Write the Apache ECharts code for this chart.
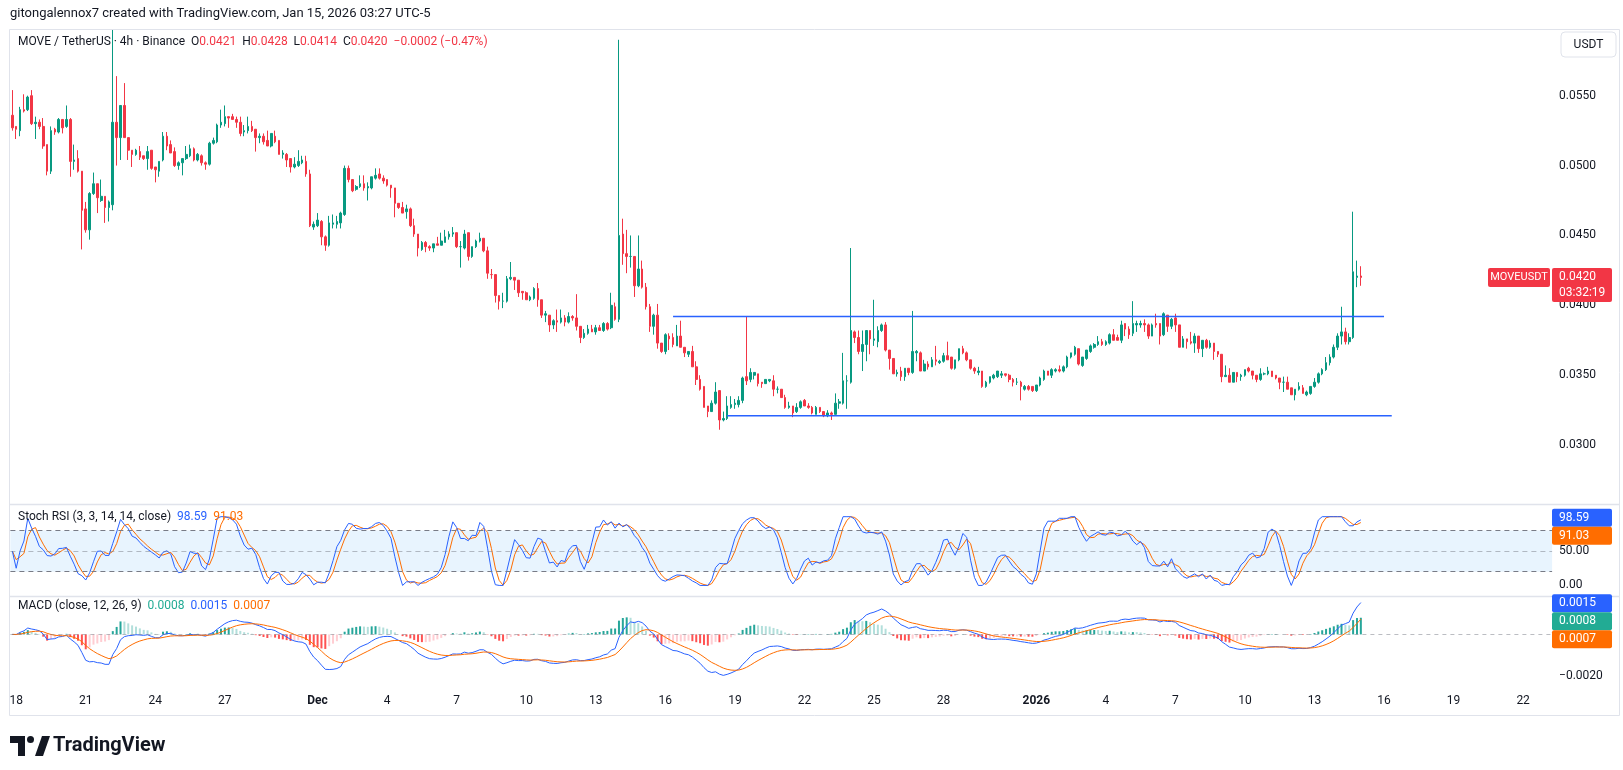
<!DOCTYPE html>
<html><head><meta charset="utf-8">
<script src="https://cdn.jsdelivr.net/npm/echarts/dist/echarts.min.js"></script>
<style>html,body{margin:0;padding:0;background:#fff}#c{width:1623px;height:770px}</style>
</head><body><div id="c"></div>
<script>
// ---- price data: 4h candles [open, high, low, close], first bar 2025-11-17 23:00 (UTC-5)
const ohlc = [
[0.0536,0.0554,0.0525,0.0527],[0.0528,0.0528,0.0519,0.0526],[0.0525,0.0542,0.0521,0.0540],[0.0540,0.0551,0.0538,0.0539],[0.0540,0.0550,0.0539,0.0549],
[0.0550,0.0554,0.0529,0.0530],[0.0530,0.0535,0.0519,0.0531],[0.0531,0.0533,0.0526,0.0528],[0.0528,0.0534,0.0512,0.0514],[0.0515,0.0515,0.0493,0.0496],
[0.0496,0.0528,0.0494,0.0525],[0.0526,0.0527,0.0522,0.0524],[0.0524,0.0534,0.0523,0.0533],[0.0533,0.0533,0.0523,0.0527],[0.0528,0.0543,0.0527,0.0533],
[0.0533,0.0534,0.0492,0.0503],[0.0503,0.0515,0.0497,0.0504],[0.0505,0.0511,0.0495,0.0496],[0.0496,0.0496,0.0440,0.0468],[0.0469,0.0474,0.0452,0.0454],
[0.0454,0.0481,0.0447,0.0480],[0.0480,0.0495,0.0479,0.0487],[0.0487,0.0487,0.0466,0.0477],[0.0475,0.0490,0.0474,0.0478],[0.0478,0.0478,0.0459,0.0470],
[0.0470,0.0475,0.0460,0.0474],[0.0472,0.0597,0.0468,0.0531],[0.0531,0.0564,0.0500,0.0520],[0.0520,0.0543,0.0504,0.0543],[0.0543,0.0559,0.0520,0.0520],
[0.0520,0.0520,0.0504,0.0511],[0.0511,0.0511,0.0499,0.0508],[0.0508,0.0512,0.0507,0.0511],[0.0510,0.0514,0.0504,0.0506],[0.0507,0.0507,0.0504,0.0505],
[0.0505,0.0514,0.0497,0.0510],[0.0511,0.0511,0.0497,0.0498],[0.0499,0.0499,0.0488,0.0497],[0.0496,0.0503,0.0492,0.0503],[0.0504,0.0524,0.0503,0.0521],
[0.0521,0.0524,0.0511,0.0514],[0.0515,0.0518,0.0509,0.0509],[0.0510,0.0513,0.0499,0.0500],[0.0500,0.0503,0.0497,0.0502],[0.0502,0.0505,0.0493,0.0505],
[0.0505,0.0514,0.0504,0.0508],[0.0507,0.0515,0.0506,0.0512],[0.0512,0.0513,0.0503,0.0504],[0.0504,0.0509,0.0503,0.0508],[0.0507,0.0508,0.0500,0.0502],
[0.0502,0.0503,0.0497,0.0501],[0.0501,0.0517,0.0500,0.0516],[0.0516,0.0520,0.0515,0.0518],[0.0517,0.0530,0.0516,0.0529],[0.0529,0.0540,0.0527,0.0531],
[0.0530,0.0543,0.0528,0.0535],[0.0535,0.0535,0.0527,0.0534],[0.0535,0.0537,0.0533,0.0533],[0.0533,0.0535,0.0527,0.0531],[0.0531,0.0535,0.0521,0.0523],
[0.0524,0.0529,0.0521,0.0525],[0.0525,0.0535,0.0523,0.0528],[0.0528,0.0532,0.0524,0.0525],[0.0526,0.0526,0.0510,0.0520],[0.0520,0.0523,0.0516,0.0521],
[0.0521,0.0523,0.0515,0.0517],[0.0518,0.0525,0.0514,0.0514],[0.0514,0.0523,0.0513,0.0523],[0.0521,0.0525,0.0516,0.0517],[0.0518,0.0518,0.0508,0.0508],
[0.0508,0.0511,0.0505,0.0509],[0.0508,0.0509,0.0499,0.0504],[0.0505,0.0505,0.0495,0.0499],[0.0499,0.0506,0.0498,0.0501],[0.0500,0.0511,0.0499,0.0503],
[0.0502,0.0507,0.0501,0.0504],[0.0503,0.0507,0.0492,0.0494],[0.0494,0.0497,0.0456,0.0457],[0.0456,0.0460,0.0454,0.0458],[0.0457,0.0466,0.0456,0.0461],
[0.0460,0.0461,0.0443,0.0449],[0.0449,0.0450,0.0439,0.0443],[0.0443,0.0464,0.0442,0.0459],[0.0458,0.0465,0.0455,0.0459],[0.0458,0.0464,0.0455,0.0460],
[0.0459,0.0467,0.0455,0.0466],[0.0465,0.0500,0.0464,0.0498],[0.0498,0.0500,0.0488,0.0490],[0.0490,0.0490,0.0481,0.0482],[0.0483,0.0486,0.0482,0.0485],
[0.0485,0.0493,0.0484,0.0487],[0.0487,0.0493,0.0482,0.0484],[0.0484,0.0488,0.0475,0.0485],[0.0484,0.0492,0.0483,0.0492],[0.0491,0.0498,0.0490,0.0493],
[0.0494,0.0498,0.0490,0.0491],[0.0491,0.0493,0.0487,0.0489],[0.0490,0.0490,0.0485,0.0486],[0.0486,0.0486,0.0477,0.0484],[0.0484,0.0484,0.0463,0.0473],
[0.0473,0.0473,0.0469,0.0470],[0.0470,0.0474,0.0466,0.0466],[0.0467,0.0472,0.0462,0.0469],[0.0469,0.0470,0.0456,0.0457],[0.0457,0.0462,0.0449,0.0451],
[0.0451,0.0451,0.0435,0.0441],[0.0440,0.0446,0.0439,0.0445],[0.0445,0.0446,0.0438,0.0442],[0.0442,0.0443,0.0439,0.0441],[0.0441,0.0444,0.0438,0.0444],
[0.0444,0.0449,0.0443,0.0443],[0.0443,0.0452,0.0443,0.0446],[0.0445,0.0454,0.0445,0.0449],[0.0449,0.0453,0.0447,0.0451],[0.0451,0.0456,0.0449,0.0452],
[0.0452,0.0452,0.0441,0.0442],[0.0442,0.0446,0.0427,0.0442],[0.0441,0.0454,0.0440,0.0451],[0.0452,0.0452,0.0432,0.0435],[0.0435,0.0442,0.0434,0.0442],
[0.0442,0.0447,0.0441,0.0446],[0.0446,0.0452,0.0445,0.0448],[0.0448,0.0448,0.0438,0.0439],[0.0439,0.0442,0.0419,0.0423],[0.0422,0.0426,0.0419,0.0422],
[0.0422,0.0422,0.0402,0.0407],[0.0407,0.0407,0.0397,0.0403],[0.0403,0.0409,0.0398,0.0403],[0.0403,0.0421,0.0402,0.0419],[0.0419,0.0431,0.0418,0.0420],
[0.0420,0.0420,0.0411,0.0418],[0.0418,0.0418,0.0406,0.0409],[0.0410,0.0410,0.0404,0.0409],[0.0409,0.0410,0.0404,0.0404],[0.0404,0.0407,0.0403,0.0406],
[0.0405,0.0413,0.0404,0.0412],[0.0412,0.0416,0.0399,0.0404],[0.0404,0.0404,0.0391,0.0393],[0.0393,0.0396,0.0388,0.0394],[0.0393,0.0393,0.0381,0.0386],
[0.0386,0.0390,0.0383,0.0389],[0.0389,0.0397,0.0381,0.0388],[0.0388,0.0397,0.0387,0.0391],[0.0391,0.0393,0.0385,0.0388],[0.0388,0.0395,0.0387,0.0392],
[0.0392,0.0393,0.0389,0.0391],[0.0391,0.0408,0.0382,0.0385],[0.0385,0.0385,0.0373,0.0377],[0.0377,0.0383,0.0376,0.0380],[0.0380,0.0386,0.0379,0.0383],
[0.0383,0.0386,0.0381,0.0381],[0.0381,0.0386,0.0379,0.0384],[0.0384,0.0386,0.0382,0.0382],[0.0382,0.0388,0.0381,0.0387],[0.0387,0.0388,0.0382,0.0383],
[0.0384,0.0409,0.0383,0.0400],[0.0399,0.0402,0.0389,0.0390],[0.0390,0.0590,0.0388,0.0450],[0.0451,0.0462,0.0429,0.0437],[0.0437,0.0454,0.0423,0.0435],
[0.0435,0.0450,0.0427,0.0435],[0.0435,0.0435,0.0406,0.0414],[0.0414,0.0450,0.0413,0.0426],[0.0426,0.0432,0.0412,0.0413],[0.0413,0.0416,0.0397,0.0399],
[0.0399,0.0401,0.0381,0.0385],[0.0385,0.0394,0.0379,0.0393],[0.0393,0.0401,0.0369,0.0373],[0.0373,0.0373,0.0366,0.0367],[0.0367,0.0380,0.0365,0.0379],
[0.0378,0.0380,0.0368,0.0376],[0.0377,0.0380,0.0370,0.0372],[0.0371,0.0386,0.0371,0.0378],[0.0378,0.0389,0.0370,0.0370],[0.0370,0.0370,0.0363,0.0366],
[0.0365,0.0367,0.0363,0.0367],[0.0367,0.0371,0.0356,0.0356],[0.0356,0.0360,0.0343,0.0347],[0.0347,0.0350,0.0339,0.0340],[0.0342,0.0342,0.0327,0.0327],
[0.0328,0.0328,0.0320,0.0324],[0.0324,0.0332,0.0324,0.0330],[0.0330,0.0345,0.0329,0.0338],[0.0339,0.0339,0.0311,0.0318],[0.0318,0.0324,0.0317,0.0319],
[0.0319,0.0335,0.0318,0.0328],[0.0327,0.0335,0.0326,0.0329],[0.0329,0.0333,0.0326,0.0330],[0.0329,0.0335,0.0327,0.0332],[0.0332,0.0349,0.0330,0.0348],
[0.0349,0.0392,0.0343,0.0346],[0.0347,0.0355,0.0345,0.0352],[0.0350,0.0352,0.0347,0.0352],[0.0351,0.0351,0.0342,0.0344],[0.0345,0.0345,0.0341,0.0344],
[0.0344,0.0347,0.0344,0.0347],[0.0346,0.0347,0.0345,0.0347],[0.0346,0.0350,0.0335,0.0340],[0.0340,0.0342,0.0337,0.0340],[0.0340,0.0340,0.0334,0.0334],
[0.0334,0.0336,0.0326,0.0327],[0.0327,0.0331,0.0326,0.0328],[0.0328,0.0328,0.0320,0.0323],[0.0324,0.0330,0.0323,0.0327],[0.0327,0.0332,0.0326,0.0331],
[0.0332,0.0333,0.0328,0.0328],[0.0328,0.0330,0.0326,0.0327],[0.0327,0.0328,0.0322,0.0323],[0.0322,0.0328,0.0322,0.0327],[0.0327,0.0327,0.0323,0.0324],
[0.0324,0.0324,0.0320,0.0321],[0.0321,0.0325,0.0320,0.0323],[0.0323,0.0324,0.0318,0.0322],[0.0322,0.0337,0.0322,0.0330],[0.0330,0.0333,0.0326,0.0331],
[0.0330,0.0366,0.0329,0.0346],[0.0346,0.0350,0.0326,0.0346],[0.0345,0.0441,0.0344,0.0382],[0.0381,0.0382,0.0373,0.0377],[0.0377,0.0382,0.0365,0.0367],
[0.0367,0.0382,0.0353,0.0372],[0.0372,0.0382,0.0360,0.0382],[0.0382,0.0382,0.0365,0.0376],[0.0375,0.0404,0.0371,0.0376],[0.0374,0.0385,0.0370,0.0382],
[0.0382,0.0387,0.0381,0.0386],[0.0386,0.0388,0.0367,0.0368],[0.0368,0.0368,0.0354,0.0362],[0.0362,0.0362,0.0351,0.0351],[0.0351,0.0354,0.0349,0.0352],
[0.0353,0.0356,0.0346,0.0349],[0.0349,0.0355,0.0346,0.0355],[0.0355,0.0355,0.0350,0.0352],[0.0352,0.0396,0.0351,0.0367],[0.0366,0.0368,0.0360,0.0367],
[0.0366,0.0367,0.0353,0.0353],[0.0353,0.0361,0.0353,0.0358],[0.0358,0.0360,0.0354,0.0356],[0.0356,0.0363,0.0356,0.0361],[0.0361,0.0371,0.0357,0.0360],
[0.0359,0.0361,0.0358,0.0360],[0.0360,0.0366,0.0359,0.0364],[0.0364,0.0374,0.0361,0.0361],[0.0363,0.0363,0.0354,0.0355],[0.0355,0.0361,0.0354,0.0361],
[0.0361,0.0369,0.0360,0.0369],[0.0369,0.0371,0.0365,0.0366],[0.0366,0.0367,0.0360,0.0361],[0.0361,0.0361,0.0354,0.0355],[0.0355,0.0356,0.0351,0.0353],
[0.0352,0.0356,0.0350,0.0353],[0.0353,0.0353,0.0341,0.0342],[0.0342,0.0346,0.0341,0.0345],[0.0345,0.0349,0.0344,0.0349],[0.0348,0.0351,0.0347,0.0350],
[0.0349,0.0353,0.0348,0.0353],[0.0350,0.0353,0.0348,0.0351],[0.0351,0.0351,0.0349,0.0350],[0.0350,0.0351,0.0345,0.0347],[0.0347,0.0348,0.0342,0.0345],
[0.0345,0.0348,0.0343,0.0345],[0.0345,0.0346,0.0332,0.0342],[0.0340,0.0343,0.0339,0.0342],[0.0342,0.0343,0.0339,0.0340],[0.0342,0.0342,0.0338,0.0339],
[0.0339,0.0343,0.0338,0.0343],[0.0343,0.0349,0.0342,0.0348],[0.0347,0.0354,0.0346,0.0353],[0.0353,0.0353,0.0350,0.0350],[0.0350,0.0355,0.0348,0.0354],
[0.0353,0.0355,0.0352,0.0354],[0.0354,0.0357,0.0352,0.0353],[0.0353,0.0357,0.0352,0.0356],[0.0356,0.0364,0.0355,0.0363],[0.0363,0.0366,0.0362,0.0366],
[0.0365,0.0371,0.0364,0.0370],[0.0369,0.0369,0.0357,0.0358],[0.0357,0.0363,0.0356,0.0363],[0.0362,0.0368,0.0361,0.0368],[0.0367,0.0372,0.0366,0.0371],
[0.0370,0.0373,0.0369,0.0372],[0.0372,0.0378,0.0371,0.0374],[0.0374,0.0376,0.0371,0.0372],[0.0372,0.0375,0.0371,0.0374],[0.0373,0.0380,0.0372,0.0379],
[0.0379,0.0383,0.0375,0.0375],[0.0377,0.0379,0.0375,0.0375],[0.0375,0.0389,0.0373,0.0386],[0.0387,0.0387,0.0378,0.0383],[0.0383,0.0385,0.0376,0.0379],
[0.0380,0.0403,0.0378,0.0387],[0.0386,0.0389,0.0381,0.0387],[0.0386,0.0389,0.0384,0.0387],[0.0387,0.0390,0.0381,0.0386],[0.0386,0.0387,0.0376,0.0378],
[0.0378,0.0387,0.0378,0.0386],[0.0387,0.0394,0.0384,0.0386],[0.0387,0.0387,0.0372,0.0378],[0.0379,0.0395,0.0378,0.0394],[0.0393,0.0393,0.0381,0.0385],
[0.0385,0.0391,0.0383,0.0390],[0.0391,0.0394,0.0381,0.0386],[0.0386,0.0386,0.0370,0.0370],[0.0370,0.0378,0.0370,0.0376],[0.0376,0.0376,0.0369,0.0374],
[0.0374,0.0381,0.0372,0.0373],[0.0373,0.0380,0.0366,0.0378],[0.0378,0.0378,0.0366,0.0369],[0.0369,0.0375,0.0363,0.0375],[0.0375,0.0376,0.0369,0.0370],
[0.0370,0.0375,0.0369,0.0373],[0.0373,0.0373,0.0361,0.0367],[0.0367,0.0367,0.0363,0.0365],[0.0365,0.0365,0.0345,0.0349],[0.0349,0.0357,0.0349,0.0350],
[0.0350,0.0355,0.0345,0.0345],[0.0345,0.0352,0.0345,0.0352],[0.0352,0.0352,0.0345,0.0349],[0.0349,0.0351,0.0346,0.0350],[0.0350,0.0354,0.0349,0.0354],
[0.0355,0.0356,0.0352,0.0353],[0.0353,0.0353,0.0347,0.0350],[0.0350,0.0350,0.0345,0.0347],[0.0347,0.0355,0.0346,0.0351],[0.0351,0.0352,0.0350,0.0351],
[0.0351,0.0356,0.0350,0.0353],[0.0353,0.0353,0.0349,0.0349],[0.0350,0.0350,0.0347,0.0348],[0.0348,0.0348,0.0340,0.0345],[0.0345,0.0349,0.0338,0.0345],
[0.0345,0.0349,0.0340,0.0340],[0.0341,0.0341,0.0336,0.0336],[0.0336,0.0340,0.0332,0.0340],[0.0340,0.0345,0.0339,0.0342],[0.0341,0.0343,0.0337,0.0337],
[0.0336,0.0339,0.0335,0.0338],[0.0337,0.0342,0.0336,0.0342],[0.0342,0.0348,0.0341,0.0345],[0.0345,0.0352,0.0344,0.0351],[0.0351,0.0355,0.0350,0.0354],
[0.0354,0.0363,0.0353,0.0359],[0.0359,0.0365,0.0357,0.0363],[0.0363,0.0372,0.0362,0.0370],[0.0370,0.0380,0.0368,0.0378],[0.0378,0.0399,0.0372,0.0381],
[0.0381,0.0384,0.0372,0.0374],[0.0374,0.0380,0.0372,0.0377],[0.0377,0.0467,0.0376,0.0424],[0.0420,0.0432,0.0413,0.0421],[0.0421,0.0428,0.0414,0.0420]
];

// ---- time axis
const firstBarClock = Date.UTC(2025, 10, 17, 23, 0);   // clock time shown by the chart (UTC-5)
const barHours = 4;
const futureBars = 49;                                  // empty space right of the last bar
const tickDates  = ['2025-11-18','2025-11-21','2025-11-24','2025-11-27','2025-12-01','2025-12-04','2025-12-07','2025-12-10','2025-12-13','2025-12-16','2025-12-19','2025-12-22','2025-12-25','2025-12-28','2026-01-01','2026-01-04','2026-01-07','2026-01-10','2026-01-13','2026-01-16','2026-01-19','2026-01-22'];
const tickLabels = ['18','21','24','27','Dec','4','7','10','13','16','19','22','25','28','2026','4','7','10','13','16','19','22'];
const boldTicks  = ['Dec','2026'];

// ---- drawn horizontal levels
const levels = [
  { from: '2025-12-16 11:00', to: '2026-01-16 03:00', price: 0.0392 },
  { from: '2025-12-18 19:00', to: '2026-01-16 11:00', price: 0.0321 }
];

// ---- header / legend values
const headerText = 'gitongalennox7 created with TradingView.com, Jan 15, 2026 03:27 UTC-5';
const legendVals = { O: '0.0421', H: '0.0428', L: '0.0414', C: '0.0420', chg: '\u22120.0002 (\u22120.47%)' };
const lastPrice = 0.0420, countdown = '03:32:19';
const stochLast = [98.59, 91.03];
const macdLast = { hist: 0.0008, macd: 0.0015, signal: 0.0007 };

// ---------------------------------------------------------------
const pad = n => String(n).padStart(2, '0');
const categories = [];
for (let i = 0; i < ohlc.length + futureBars; i++) {
  const d = new Date(firstBarClock + i * barHours * 3600e3);
  categories.push(d.getUTCFullYear() + '-' + pad(d.getUTCMonth() + 1) + '-' + pad(d.getUTCDate()) + ' ' + pad(d.getUTCHours()) + ':' + pad(d.getUTCMinutes()));
}
const tickMap = {};
tickDates.forEach((d, k) => { tickMap[d + ' 03:00'] = tickLabels[k]; });

// indicators from closes
const closes = ohlc.map(d => d[3]);
function ema(src, n) { const k = 2 / (n + 1); const out = []; let p = src[0]; for (let i = 0; i < src.length; i++) { p = i === 0 ? src[0] : src[i] * k + p * (1 - k); out.push(p); } return out; }
const e12 = ema(closes, 12), e26 = ema(closes, 26);
const macd = closes.map((_, i) => e12[i] - e26[i]);
const signal = ema(macd, 9);
const hist = macd.map((v, i) => v - signal[i]);
function rsi(src, n) {
  const out = [50]; let ag = 0, al = 0, sg = 0, sl = 0;
  for (let i = 1; i < src.length; i++) {
    const ch = src[i] - src[i - 1], g = Math.max(ch, 0), l = Math.max(-ch, 0);
    if (i <= n) { sg += g; sl += l; ag = sg / i; al = sl / i; } else { ag = (ag * (n - 1) + g) / n; al = (al * (n - 1) + l) / n; }
    out.push(al === 0 ? 100 : 100 - 100 / (1 + ag / al));
  }
  return out;
}
function sma(src, n) { return src.map((_, i) => { const s = src.slice(Math.max(0, i - n + 1), i + 1); return s.reduce((a, b) => a + b, 0) / s.length; }); }
const r = rsi(closes, 14);
const stoch = r.map((v, i) => { const w = r.slice(Math.max(0, i - 13), i + 1); const lo = Math.min(...w), hi = Math.max(...w); return hi > lo ? (v - lo) / (hi - lo) * 100 : 50; });
const kLine = sma(stoch, 3), dLine = sma(kLine, 3);

const UP = '#089981', DOWN = '#f23645', BLUE = '#2962ff', ORANGE = '#ff6d00', TEAL = '#22ab94';
const FONT = 'Roboto, "Noto Sans", sans-serif';
const GL = 10.4, GR = 70.9;

const histData = hist.map((v, i) => {
  const prev = i > 0 ? hist[i - 1] : v;
  const c = v >= 0 ? (v >= prev ? '#26a69a' : '#b2dfdb') : (v > prev ? '#ffcdd2' : '#ff5252');
  return { value: v, itemStyle: { color: c } };
});

const xBase = (gi, show) => ({
  type: 'category', gridIndex: gi, data: categories, boundaryGap: true,
  axisLine: { show: false }, axisTick: { show: false }, splitLine: { show: false },
  axisLabel: show ? {
    show: true, margin: 7, color: '#131722', fontSize: 12, fontFamily: FONT,
    interval: (idx, val) => tickMap[val] !== undefined,
    formatter: val => { const t = tickMap[val] || ''; return boldTicks.includes(t) ? '{b|' + t + '}' : t; },
    rich: { b: { fontWeight: 'bold', fontSize: 12, color: '#131722', fontFamily: FONT } }
  } : { show: false }
});

const chart = echarts.init(document.getElementById('c'), null, { renderer: 'canvas' });
chart.setOption({
  animation: false,
  backgroundColor: '#ffffff',
  textStyle: { fontFamily: FONT },
  grid: [
    { left: GL, right: GR, top: 25.8, height: 489.2 },
    { left: GL, right: GR, top: 482.3, height: 137.5 },
    { left: GL, right: GR, top: 551.2, height: 166.4 },
    { left: GL, right: GR, top: 686, height: 2 }
  ],
  xAxis: [xBase(0, false), xBase(1, false), xBase(2, false), xBase(3, true)],
  yAxis: [
    { type: 'value', gridIndex: 0, position: 'right', min: 0.025, max: 0.060, interval: 0.005, scale: true,
      axisLine: { show: false }, axisTick: { show: false }, splitLine: { show: false },
      axisLabel: { margin: 7, color: '#131722', fontSize: 12, fontFamily: FONT,
        formatter: v => { const x = Math.round(v * 10000) / 10000; return (x < 0.0299 || x > 0.0551) ? '' : x.toFixed(4); } } },
    { type: 'value', gridIndex: 1, position: 'right', min: -50, max: 150, interval: 50,
      axisLine: { show: false }, axisTick: { show: false }, splitLine: { show: false },
      axisLabel: { margin: 7, color: '#131722', fontSize: 12, fontFamily: FONT,
        formatter: v => (v === 0 ? '0.00' : v === 50 ? '50.00' : '') } },
    { type: 'value', gridIndex: 2, position: 'right', min: -0.004, max: 0.004, interval: 0.002,
      axisLine: { show: false }, axisTick: { show: false }, splitLine: { show: false },
      axisLabel: { margin: 7, color: '#131722', fontSize: 12, fontFamily: FONT,
        formatter: v => (Math.abs(v + 0.002) < 1e-9 ? '\u22120.0020' : '') } },
    { type: 'value', gridIndex: 3, show: false }
  ],
  series: [
    { type: 'candlestick', xAxisIndex: 0, yAxisIndex: 0, barWidth: 2.1,
      data: ohlc.map(d => [d[0], d[3], d[2], d[1]]),
      itemStyle: { color: UP, color0: DOWN, borderColor: UP, borderColor0: DOWN, borderWidth: 1 } },
    ...levels.map(l => ({ type: 'line', xAxisIndex: 0, yAxisIndex: 0, symbol: 'none', silent: true,
      data: [[categories.indexOf(l.from), l.price], [categories.indexOf(l.to), l.price]],
      lineStyle: { color: BLUE, width: 1.5 } })),
    { type: 'line', xAxisIndex: 1, yAxisIndex: 1, data: kLine, symbol: 'none', lineStyle: { color: BLUE, width: 1 }, z: 3,
      markArea: { silent: true, itemStyle: { color: 'rgba(33,150,243,0.1)' }, data: [[{ yAxis: 20 }, { yAxis: 80 }]] },
      markLine: { silent: true, symbol: ['none', 'none'], label: { show: false },
        data: [
          { yAxis: 80, lineStyle: { color: '#787b86', type: [5, 4], width: 1 } },
          { yAxis: 50, lineStyle: { color: 'rgba(120,123,134,0.5)', type: [5, 4], width: 1 } },
          { yAxis: 20, lineStyle: { color: '#787b86', type: [5, 4], width: 1 } }
        ] } },
    { type: 'line', xAxisIndex: 1, yAxisIndex: 1, data: dLine, symbol: 'none', lineStyle: { color: ORANGE, width: 1 }, z: 2 },
    { type: 'bar', xAxisIndex: 2, yAxisIndex: 2, data: histData, barWidth: 2,
      markLine: { silent: true, symbol: ['none', 'none'], label: { show: false },
        data: [{ yAxis: 0, lineStyle: { color: 'rgba(120,123,134,0.5)', type: [4, 4], width: 1 } }] } },
    { type: 'line', xAxisIndex: 2, yAxisIndex: 2, data: macd, symbol: 'none', lineStyle: { color: BLUE, width: 1 }, z: 3 },
    { type: 'line', xAxisIndex: 2, yAxisIndex: 2, data: signal, symbol: 'none', lineStyle: { color: ORANGE, width: 1 }, z: 3 },
    { type: 'line', xAxisIndex: 3, yAxisIndex: 3, data: [] }
  ]
});

// ---- overlays positioned through the chart's own scales
const yPrice = v => chart.convertToPixel({ yAxisIndex: 0 }, v);
const yStoch = v => chart.convertToPixel({ yAxisIndex: 1 }, v);
const yMacd = v => chart.convertToPixel({ yAxisIndex: 2 }, v);
const AX = 1552;
const g = [];
const frame = '#e0e3eb';
g.push({ type: 'rect', shape: { x: 9.5, y: 29.5, width: 1610, height: 686 }, style: { fill: 'none', stroke: frame, lineWidth: 1 }, z: 100 });
[504.5, 596.5].forEach(y => g.push({ type: 'line', shape: { x1: 9.5, y1: y, x2: 1619.5, y2: y }, style: { stroke: frame, lineWidth: 1.5 }, z: 100 }));
g.push({ type: 'text', x: 10, y: 14, style: { text: headerText, font: '13px ' + FONT, fill: '#131722', verticalAlign: 'middle' }, z: 100 });
g.push({ type: 'text', x: 18, y: 42, z: 100, style: {
  text: '{a|MOVE / TetherUS \u00b7 4h \u00b7 Binance}  {a|O}{r|' + legendVals.O + '}  {a|H}{r|' + legendVals.H + '}  {a|L}{r|' + legendVals.L + '}  {a|C}{r|' + legendVals.C + '}  {r|' + legendVals.chg + '}',
  font: '12px ' + FONT, verticalAlign: 'middle',
  rich: { a: { fill: '#131722', font: '12px ' + FONT }, r: { fill: DOWN, font: '12px ' + FONT } } } });
g.push({ type: 'text', x: 18, y: 517, z: 100, style: {
  text: '{a|Stoch RSI (3, 3, 14, 14, close)}  {b|' + stochLast[0].toFixed(2) + '}  {o|' + stochLast[1].toFixed(2) + '}',
  font: '12px ' + FONT, verticalAlign: 'middle',
  rich: { a: { fill: '#131722', font: '12px ' + FONT }, b: { fill: BLUE, font: '12px ' + FONT }, o: { fill: ORANGE, font: '12px ' + FONT } } } });
g.push({ type: 'text', x: 18, y: 606, z: 100, style: {
  text: '{a|MACD (close, 12, 26, 9)}  {t|' + macdLast.hist.toFixed(4) + '}  {b|' + macdLast.macd.toFixed(4) + '}  {o|' + macdLast.signal.toFixed(4) + '}',
  font: '12px ' + FONT, verticalAlign: 'middle',
  rich: { a: { fill: '#131722', font: '12px ' + FONT }, t: { fill: TEAL, font: '12px ' + FONT }, b: { fill: BLUE, font: '12px ' + FONT }, o: { fill: ORANGE, font: '12px ' + FONT } } } });
// USDT box
g.push({ type: 'rect', shape: { x: 1561, y: 32, width: 55, height: 25, r: 4 }, style: { fill: '#fff', stroke: frame, lineWidth: 1 }, z: 100 });
g.push({ type: 'text', x: 1588.5, y: 44.5, style: { text: 'USDT', font: '12px ' + FONT, fill: '#131722', align: 'center', verticalAlign: 'middle' }, z: 101 });
// last price
const yp = yPrice(lastPrice);
g.push({ type: 'rect', shape: { x: 1488, y: yp - 9.5, width: 62, height: 19, r: 2 }, style: { fill: DOWN }, z: 100 });
g.push({ type: 'text', x: 1519, y: yp, style: { text: 'MOVEUSDT', font: '11px ' + FONT, fill: '#fff', align: 'center', verticalAlign: 'middle' }, z: 101 });
g.push({ type: 'rect', shape: { x: AX, y: yp - 9.5, width: 60, height: 34, r: 2 }, style: { fill: DOWN }, z: 100 });
g.push({ type: 'text', x: AX + 7, y: yp, style: { text: lastPrice.toFixed(4), font: '12px ' + FONT, fill: '#fff', verticalAlign: 'middle' }, z: 101 });
g.push({ type: 'text', x: AX + 7, y: yp + 16, style: { text: countdown, font: '12px ' + FONT, fill: '#fff', verticalAlign: 'middle' }, z: 101 });
// stacked value boxes
function boxes(list) {
  let last = -1e9;
  list.forEach(b => {
    let y = Math.max(b.y, last + 18); last = y;
    g.push({ type: 'rect', shape: { x: AX, y: y - 9, width: 60, height: 18, r: 2 }, style: { fill: b.c }, z: 100 });
    g.push({ type: 'text', x: AX + 7, y: y, style: { text: b.t, font: '12px ' + FONT, fill: '#fff', verticalAlign: 'middle' }, z: 101 });
  });
}
boxes([{ y: yStoch(stochLast[0]), t: stochLast[0].toFixed(2), c: BLUE }, { y: yStoch(stochLast[1]), t: stochLast[1].toFixed(2), c: ORANGE }]);
boxes([{ y: yMacd(macdLast.macd), t: macdLast.macd.toFixed(4), c: BLUE }, { y: yMacd(macdLast.hist), t: macdLast.hist.toFixed(4), c: TEAL }, { y: yMacd(macdLast.signal), t: macdLast.signal.toFixed(4), c: ORANGE }]);
// TradingView logo
g.push({ type: 'polygon', shape: { points: [[10, 736], [25, 736], [25, 756], [18, 756], [18, 743], [10, 743]] }, style: { fill: '#131722' }, z: 100 });
g.push({ type: 'circle', shape: { cx: 30.5, cy: 739.5, r: 3.5 }, style: { fill: '#131722' }, z: 100 });
g.push({ type: 'polygon', shape: { points: [[35, 756], [42, 736], [50, 736], [43, 756]] }, style: { fill: '#131722' }, z: 100 });
g.push({ type: 'text', x: 53, y: 746, style: { text: 'TradingView', font: 'bold 20px ' + FONT, fill: '#131722', verticalAlign: 'middle' }, z: 100 });
chart.setOption({ graphic: g });
</script>
</body></html>
